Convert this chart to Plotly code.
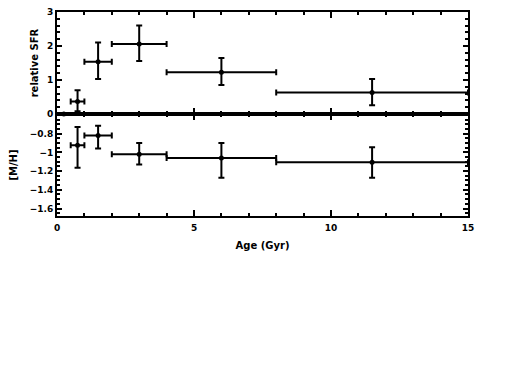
import plotly.graph_objects as go

# Data
age = [0.75, 1.5, 3, 6, 11.5]
age_lo = [0.5, 1, 2, 4, 8]
age_hi = [1, 2, 4, 8, 15]
sfr = [0.37, 1.54, 2.06, 1.23, 0.63]
sfr_lo = [0.08, 1.03, 1.56, 0.85, 0.26]
sfr_hi = [0.70, 2.10, 2.60, 1.65, 1.03]
mh = [-0.925, -0.82, -1.02, -1.06, -1.105]
mh_lo = [-1.165, -0.96, -1.13, -1.27, -1.27]
mh_hi = [-0.73, -0.715, -0.90, -0.90, -0.945]
age_young = [0.25]
sfr_young = [0.0]

xtick_vals = [0, 5, 10, 15]
sfr_ticks = [0, 1, 2, 3]
mh_ticks = [-1.6, -1.4, -1.2, -1, -0.8]
mh_labels = ["\u22121.6", "\u22121.4", "\u22121.2", "\u22121", "\u22120.8"]

ex_plus = [h - a for h, a in zip(age_hi, age)]
ex_minus = [a - l for a, l in zip(age, age_lo)]

def err(v, lo, hi):
    return dict(type="data", symmetric=False,
                array=[h - x for h, x in zip(hi, v)],
                arrayminus=[x - l for x, l in zip(v, lo)],
                color="black", thickness=2, width=3)

errx = dict(type="data", symmetric=False, array=ex_plus, arrayminus=ex_minus,
            color="black", thickness=2, width=3)

fig = go.Figure()
fig.add_trace(go.Scatter(x=age, y=sfr, mode="markers", xaxis="x", yaxis="y",
                         marker=dict(color="black", size=5), cliponaxis=False,
                         error_x=errx, error_y=err(sfr, sfr_lo, sfr_hi)))
fig.add_trace(go.Scatter(x=age_young, y=sfr_young, mode="markers", xaxis="x", yaxis="y",
                         marker=dict(color="black", size=5), cliponaxis=False))
fig.add_trace(go.Scatter(x=age, y=mh, mode="markers", xaxis="x2", yaxis="y2",
                         marker=dict(color="black", size=5), cliponaxis=False,
                         error_x=errx, error_y=err(mh, mh_lo, mh_hi)))

# page body has an 8px margin; compensate so the screenshot matches
OFF = 8
W, H = 512, 384
def dx(px):
    return (px - OFF) / W
def dy(py):
    return 1 - (py - OFF) / H

font = dict(family="DejaVu Sans", size=9, color="black", weight="bold")
tfont = dict(family="DejaVu Sans", size=10, color="black", weight="bold")
xd = [dx(57), dx(468)]
common_x = dict(range=[0, 15], domain=xd, showline=True, linewidth=2, linecolor="black",
                mirror="allticks", ticks="inside", ticklen=6, tickwidth=2, tickcolor="black",
                tickvals=xtick_vals, showgrid=False, zeroline=False, automargin=False,
                minor=dict(dtick=1, ticklen=3, tickwidth=1.5, tickcolor="black", ticks="inside", showgrid=False),
                tickfont=font)
common_y = dict(showline=True, linewidth=2, linecolor="black", mirror="allticks",
                ticks="inside", ticklen=5, tickwidth=2, tickcolor="black", automargin=False,
                showgrid=False, zeroline=False, tickfont=font, ticklabeloverflow="allow")

fig.update_layout(
    width=W, height=H, margin=dict(l=0, r=0, t=0, b=0),
    paper_bgcolor="white", plot_bgcolor="white", showlegend=False,
    font=font,
    xaxis=dict(common_x, anchor="y", showticklabels=False),
    yaxis=dict(common_y, domain=[dy(114), dy(12)], range=[0, 3],
               tickvals=sfr_ticks, anchor="x",
               minor=dict(dtick=0.2, ticklen=3, tickwidth=1.5, tickcolor="black", ticks="inside", showgrid=False),
               title=dict(text="relative SFR", font=tfont, standoff=6)),
    xaxis2=dict(common_x, anchor="y2", showticklabels=True, ticklabelstandoff=2,
                title=dict(text="Age (Gyr)", font=tfont, standoff=10)),
    yaxis2=dict(common_y, domain=[dy(216), dy(114)], range=[-1.68, -0.59],
                tickvals=mh_ticks, ticktext=mh_labels, anchor="x2",
                minor=dict(dtick=0.05, ticklen=3, tickwidth=1.5, tickcolor="black", ticks="inside", showgrid=False),
                title=dict(text="[M/H]", font=tfont, standoff=10)),
)

fig.write_html("out.html")
